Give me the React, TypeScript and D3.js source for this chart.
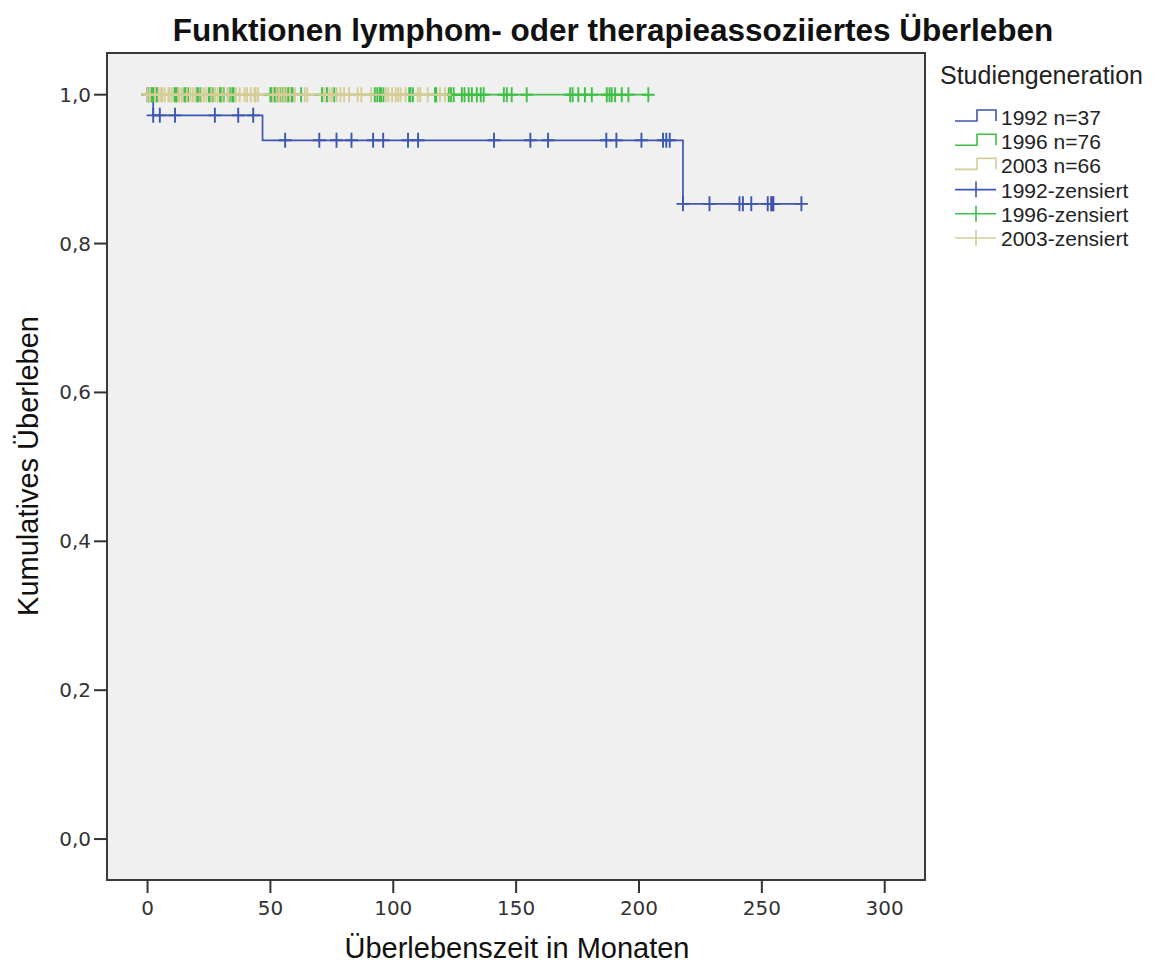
import React from "react";
import * as d3 from "d3";

// Study generations and their colours
const groups = ["1992", "1996", "2003"];
const groupN = [37, 76, 66];
const groupColors = ["#3d56b0", "#3fbf45", "#d5cd98"];

// Event times (months) per generation
const events1992 = [2.3, 46.8, 217.9];
const events1996: number[] = [];
const events2003: number[] = [];

// Censored times (months) per generation
const censored1992 = [
  0, 2.3, 5.0, 11.2, 27.4, 36.9, 43.0,
  56.0, 69.9, 76.9, 83.0, 91.8, 95.9, 106.0, 110.1, 141.0, 155.8, 163.0,
  186.7, 190.8, 201.0, 209.8, 211.1, 212.5,
  217.9, 228.7, 240.9, 242.3, 245.7, 252.4, 253.8, 254.3, 254.7, 266.1,
];
const censored1996 = [
  0.5, 1.5, 2, 2.5, 3.5, 4, 11, 11.5, 12, 15, 15.5, 16.5, 20, 20.5, 21.5,
  25, 25.5, 26.5, 29.5, 30, 31, 33.5, 34.5, 35,
  50, 50.5, 51.5, 52, 53, 54, 55, 56, 57, 57.5, 58.5, 59, 62.5, 71, 73, 76,
  92.5, 93.5, 94.5, 95, 96, 106.5, 107, 108, 117, 117.5,
  122.6, 123.5, 124.6, 127.9, 129, 130.7, 132, 134, 135.6, 136.8, 145, 146.2, 148.2, 154.3,
  172, 173, 175.3, 178, 180.8, 186.9, 188, 188.9, 190.3, 193, 195.7, 203.8,
];
const censored2003 = [
  0, 1, 3, 4.5, 5.5, 6, 7, 8.5, 9, 10, 12.5, 13, 14, 16, 17.5, 18.5, 19.5,
  22, 23, 24, 26, 27.5, 28.5, 30.5, 32.5, 33, 36,
  37.5, 39.5, 40.5, 42, 43.5, 44, 45, 51, 52.5, 53.5, 54.5, 55.5, 56.5, 58, 60,
  64, 65, 72, 74, 75, 77, 78.5,
  80, 82, 85.5, 87, 91, 97, 98, 99.5, 101, 102, 103, 105, 110, 111, 114, 119, 121,
];

const allEvents = [events1992, events1996, events2003];
const allCensored = [censored1992, censored1996, censored2003];

// Axis ticks
const xTicks = [0, 50, 100, 150, 200, 250, 300];
const yTicks = [0, 0.2, 0.4, 0.6, 0.8, 1.0];

const W = 1162;
const H = 965;
const plot = { left: 107, right: 925, top: 53, bottom: 880 };

const x = d3.scaleLinear().domain([-16.5, 316.4]).range([plot.left, plot.right]);
const y = d3.scaleLinear().domain([-0.055, 1.056]).range([plot.bottom, plot.top]);

// Kaplan-Meier estimate: returns step points and survival at each censor time
function kaplanMeier(ev: number[], cens: number[]) {
  const obs = [
    ...ev.map((t) => ({ t, e: 1 })),
    ...cens.map((t) => ({ t, e: 0 })),
  ].sort((a, b) => a.t - b.t || b.e - a.e);
  let atRisk = obs.length;
  let s = 1;
  const steps: [number, number][] = [[0, 1]];
  const marks: [number, number][] = [];
  let i = 0;
  while (i < obs.length) {
    const t = obs[i].t;
    let d = 0;
    let c = 0;
    while (i < obs.length && obs[i].t === t) {
      if (obs[i].e) d++;
      else c++;
      i++;
    }
    if (d > 0) {
      steps.push([t, s]);
      s = s * (1 - d / atRisk);
      steps.push([t, s]);
    }
    for (let k = 0; k < c; k++) marks.push([t, s]);
    atRisk -= d + c;
  }
  const tMax = obs[obs.length - 1].t;
  steps.push([tMax, s]);
  return { steps, marks };
}

const fmt = (v: number) => v.toFixed(1).replace(".", ",");
const ARM = 6.5;

export default function App() {
  const curves = groups.map((g, gi) => kaplanMeier(allEvents[gi], allCensored[gi]));
  const line = d3
    .line<[number, number]>()
    .x((d) => x(d[0]))
    .y((d) => y(d[1]));

  const legendX = 955;
  const legendRows = [
    ...groups.map((g, i) => ({ label: `${g} n=${groupN[i]}`, color: groupColors[i], kind: "step" })),
    ...groups.map((g, i) => ({ label: `${g}-zensiert`, color: groupColors[i], kind: "cens" })),
  ];

  return (
    <svg width={W} height={H} style={{ position: "absolute", left: 0, top: 0, background: "#fff" }}>
      <text
        x={613}
        y={41}
        textAnchor="middle"
        fontFamily="Liberation Sans, Arial, sans-serif"
        fontWeight="bold"
        fontSize={31.5}
        fill="#111"
      >
        Funktionen lymphom- oder therapieassoziiertes Überleben
      </text>

      <rect
        x={plot.left}
        y={plot.top}
        width={plot.right - plot.left}
        height={plot.bottom - plot.top}
        fill="#f0f0f0"
        stroke="#3a3a3a"
        strokeWidth={2}
      />

      {/* y axis */}
      {yTicks.map((v) => (
        <g key={"y" + v}>
          <line x1={plot.left - 13} x2={plot.left} y1={y(v)} y2={y(v)} stroke="#333" strokeWidth={2} />
          <text
            x={plot.left - 16}
            y={y(v) + 7}
            textAnchor="end"
            fontFamily="DejaVu Sans, sans-serif"
            fontSize={20}
            fill="#333"
          >
            {fmt(v)}
          </text>
        </g>
      ))}
      {/* x axis */}
      {xTicks.map((v) => (
        <g key={"x" + v}>
          <line x1={x(v)} x2={x(v)} y1={plot.bottom} y2={plot.bottom + 13} stroke="#333" strokeWidth={2} />
          <text
            x={x(v)}
            y={plot.bottom + 35}
            textAnchor="middle"
            fontFamily="DejaVu Sans, sans-serif"
            fontSize={20}
            fill="#333"
          >
            {v}
          </text>
        </g>
      ))}

      <text
        x={517}
        y={958}
        textAnchor="middle"
        fontFamily="Liberation Sans, Arial, sans-serif"
        fontSize={29}
        fill="#111"
      >
        Überlebenszeit in Monaten
      </text>
      <text
        transform={`translate(38, 466) rotate(-90)`}
        textAnchor="middle"
        fontFamily="Liberation Sans, Arial, sans-serif"
        fontSize={29}
        fill="#111"
      >
        Kumulatives Überleben
      </text>

      {/* survival curves */}
      {curves.map((c, gi) => (
        <g key={"c" + gi}>
          <path d={line(c.steps) || ""} fill="none" stroke={groupColors[gi]} strokeWidth={1.7} />
          {c.marks.map((m, k) => (
            <path
              key={k}
              d={`M${x(m[0]) - ARM},${y(m[1])}H${x(m[0]) + ARM}M${x(m[0])},${y(m[1]) - ARM - 1}V${y(m[1]) + ARM + 1}`}
              stroke={groupColors[gi]}
              strokeWidth={1.9}
              fill="none"
            />
          ))}
        </g>
      ))}

      {/* legend */}
      <text x={940} y={84} fontFamily="Liberation Sans, Arial, sans-serif" fontSize={25} fill="#222">
        Studiengeneration
      </text>
      {legendRows.map((r, i) => {
        const cy = 117 + i * 24.2;
        return (
          <g key={"l" + i}>
            {r.kind === "step" ? (
              <path
                d={`M${legendX},${cy + 4}H${legendX + 22}V${cy - 7}H${legendX + 41}V${cy + 4}`}
                fill="none"
                stroke={r.color}
                strokeWidth={1.6}
              />
            ) : (
              <path
                d={`M${legendX},${cy}H${legendX + 41}M${legendX + 21},${cy - 8}V${cy + 8}`}
                fill="none"
                stroke={r.color}
                strokeWidth={1.6}
              />
            )}
            <text
              x={legendX + 46}
              y={cy + 8}
              fontFamily="Liberation Sans, Arial, sans-serif"
              fontSize={21}
              fill="#222"
            >
              {r.label}
            </text>
          </g>
        );
      })}
    </svg>
  );
}
